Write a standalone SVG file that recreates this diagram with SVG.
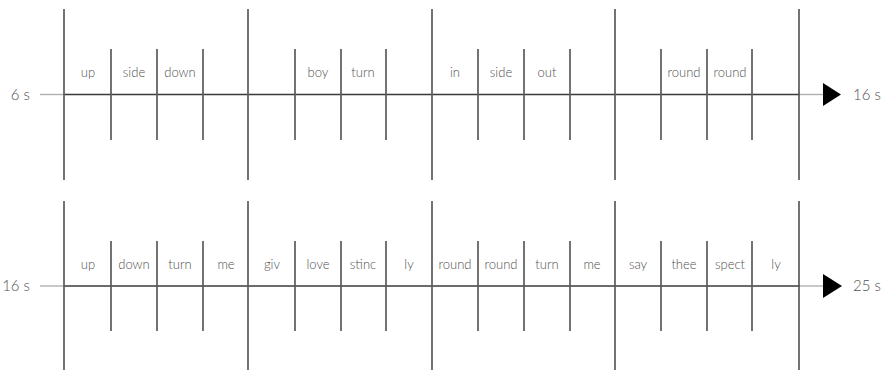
<svg xmlns="http://www.w3.org/2000/svg" width="883" height="370" viewBox="0 0 883 370">
<style>
.bg{fill:#fff}
.long{stroke:#5a5a5a;stroke-width:1.7}
.short{stroke:#5a5a5a;stroke-width:1.7}
.axis{stroke:#3a3a3a;stroke-width:1.4}
.stub{stroke:#b0b0b0;stroke-width:1.4}
.arrow{fill:#000}
.w{font-family:Lato,"Open Sans",sans-serif;font-weight:300;font-size:13px;fill:#505050;text-anchor:middle}
.t{font-family:Lato,"Open Sans",sans-serif;font-weight:300;font-size:15px;fill:#505050}
</style>
<rect class="bg" x="0" y="0" width="883" height="370"/>
<g id="connectors">
  <line class="stub" x1="40" y1="94.5" x2="64" y2="94.5"/>
  <line class="axis" x1="64" y1="94.5" x2="800" y2="94.5"/>
  <line class="stub" x1="800" y1="94.5" x2="824" y2="94.5"/>
  <polygon class="arrow" points="823,83 841,94.5 823,106"/>
  <line class="stub" x1="40" y1="286" x2="64" y2="286"/>
  <line class="axis" x1="64" y1="286" x2="800" y2="286"/>
  <line class="stub" x1="800" y1="286" x2="824" y2="286"/>
  <polygon class="arrow" points="823,274 842,286 823,298"/>
</g>
<g id="row1">
  <text class="t" x="30" y="99.5" text-anchor="end">6 s</text>
  <text class="t" x="853" y="99.5">16 s</text>
  <g id="row1-bars">
    <line class="long" x1="64" y1="9" x2="64" y2="180"/>
    <line class="long" x1="248" y1="9" x2="248" y2="180"/>
    <line class="long" x1="432" y1="9" x2="432" y2="180"/>
    <line class="long" x1="615" y1="9" x2="615" y2="180"/>
    <line class="long" x1="799" y1="9" x2="799" y2="180"/>
    <line class="short" x1="111" y1="49" x2="111" y2="140"/>
    <line class="short" x1="157" y1="49" x2="157" y2="140"/>
    <line class="short" x1="203" y1="49" x2="203" y2="140"/>
    <line class="short" x1="295" y1="49" x2="295" y2="140"/>
    <line class="short" x1="341" y1="49" x2="341" y2="140"/>
    <line class="short" x1="386" y1="49" x2="386" y2="140"/>
    <line class="short" x1="478" y1="49" x2="478" y2="140"/>
    <line class="short" x1="524" y1="49" x2="524" y2="140"/>
    <line class="short" x1="570" y1="49" x2="570" y2="140"/>
    <line class="short" x1="661" y1="49" x2="661" y2="140"/>
    <line class="short" x1="707" y1="49" x2="707" y2="140"/>
    <line class="short" x1="752" y1="49" x2="752" y2="140"/>
  </g>
  <g id="row1-words">
    <text class="w" x="88" y="77">up</text>
    <text class="w" x="134" y="77">side</text>
    <text class="w" x="180" y="77">down</text>
    <text class="w" x="318" y="77">boy</text>
    <text class="w" x="363" y="77">turn</text>
    <text class="w" x="455" y="77">in</text>
    <text class="w" x="501" y="77">side</text>
    <text class="w" x="547" y="77">out</text>
    <text class="w" x="684" y="77">round</text>
    <text class="w" x="730" y="77">round</text>
  </g>
</g>
<g id="row2">
  <text class="t" x="30" y="291" text-anchor="end">16 s</text>
  <text class="t" x="853" y="291">25 s</text>
  <g id="row2-bars">
    <line class="long" x1="64" y1="201" x2="64" y2="370"/>
    <line class="long" x1="248" y1="201" x2="248" y2="370"/>
    <line class="long" x1="432" y1="201" x2="432" y2="370"/>
    <line class="long" x1="615" y1="201" x2="615" y2="370"/>
    <line class="long" x1="799" y1="201" x2="799" y2="370"/>
    <line class="short" x1="111" y1="241" x2="111" y2="331"/>
    <line class="short" x1="157" y1="241" x2="157" y2="331"/>
    <line class="short" x1="203" y1="241" x2="203" y2="331"/>
    <line class="short" x1="295" y1="241" x2="295" y2="331"/>
    <line class="short" x1="341" y1="241" x2="341" y2="331"/>
    <line class="short" x1="386" y1="241" x2="386" y2="331"/>
    <line class="short" x1="478" y1="241" x2="478" y2="331"/>
    <line class="short" x1="524" y1="241" x2="524" y2="331"/>
    <line class="short" x1="570" y1="241" x2="570" y2="331"/>
    <line class="short" x1="661" y1="241" x2="661" y2="331"/>
    <line class="short" x1="707" y1="241" x2="707" y2="331"/>
    <line class="short" x1="752" y1="241" x2="752" y2="331"/>
  </g>
  <g id="row2-words">
    <text class="w" x="88" y="268.5">up</text>
    <text class="w" x="134" y="268.5">down</text>
    <text class="w" x="180" y="268.5">turn</text>
    <text class="w" x="226" y="268.5">me</text>
    <text class="w" x="272" y="268.5">giv</text>
    <text class="w" x="318" y="268.5">love</text>
    <text class="w" x="363" y="268.5">stinc</text>
    <text class="w" x="409" y="268.5">ly</text>
    <text class="w" x="455" y="268.5">round</text>
    <text class="w" x="501" y="268.5">round</text>
    <text class="w" x="547" y="268.5">turn</text>
    <text class="w" x="592" y="268.5">me</text>
    <text class="w" x="638" y="268.5">say</text>
    <text class="w" x="684" y="268.5">thee</text>
    <text class="w" x="730" y="268.5">spect</text>
    <text class="w" x="776" y="268.5">ly</text>
  </g>
</g>
</svg>
